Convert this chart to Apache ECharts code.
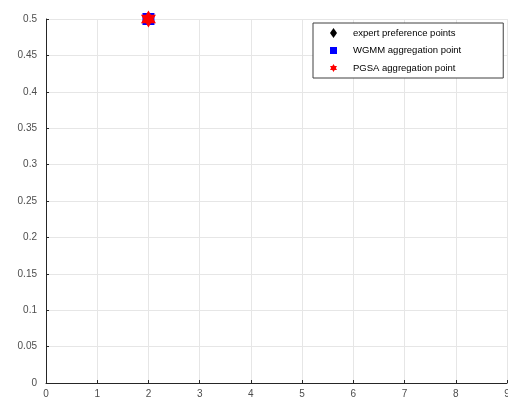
<!DOCTYPE html>
<html>
<head>
<meta charset="utf-8">
<script src="https://cdn.jsdelivr.net/npm/echarts@6/dist/echarts.min.js"></script>
<style>
html,body{margin:0;padding:0;background:#fff;}
#chart{width:508px;height:399px;}
</style>
</head>
<body>
<div id="chart"></div>
<script>
// Aggregation results in the (x, y) plane
const expertPoints = [[2, 0.5]];
const wgmmPoint = [[2, 0.5]];
const pgsaPoint = [[2, 0.5]];

const seriesNames = ['expert preference points', 'WGMM aggregation point', 'PGSA aggregation point'];
const xTicks = [0, 1, 2, 3, 4, 5, 6, 7, 8, 9];
const yTicks = [0, 0.05, 0.1, 0.15, 0.2, 0.25, 0.3, 0.35, 0.4, 0.45, 0.5];

// six-pointed star marker
const hexagram = 'path://M0,-10L2.887,-5L8.660,-5L5.774,0L8.660,5L2.887,5L0,10L-2.887,5L-8.660,5L-5.774,0L-8.660,-5L-2.887,-5Z';

const font = '"Liberation Sans", Arial, Helvetica, sans-serif';
const chart = echarts.init(document.getElementById('chart'), null, {renderer: 'canvas'});

chart.setOption({
  animation: false,
  backgroundColor: '#fff',
  grid: {left: 46, right: 1, top: 19, bottom: 16, containLabel: false, outerBoundsMode: 'none'},
  xAxis: {
    type: 'value',
    min: xTicks[0], max: xTicks[xTicks.length - 1], interval: 1,
    axisLine: {onZero: false, lineStyle: {color: '#262626', width: 1}},
    axisTick: {inside: true, length: 3, lineStyle: {color: '#262626'}},
    axisLabel: {color: '#4d4d4d', fontSize: 10, fontFamily: font, margin: 6},
    splitLine: {show: true, lineStyle: {color: '#e6e6e6', width: 1}}
  },
  yAxis: {
    type: 'value',
    min: yTicks[0], max: yTicks[yTicks.length - 1], interval: 0.05,
    axisLine: {show: true, onZero: false, lineStyle: {color: '#262626', width: 1}},
    axisTick: {show: true, inside: true, length: 3, lineStyle: {color: '#262626'}},
    axisLabel: {color: '#4d4d4d', fontSize: 10, fontFamily: font, margin: 9,
      formatter: v => String(+v.toFixed(2))},
    splitLine: {show: true, lineStyle: {color: '#e6e6e6', width: 1}}
  },
  legend: {
    orient: 'vertical',
    left: 313, top: 23,
    padding: [5, 42, 5, 17],
    itemGap: 7.5,
    itemWidth: 7, itemHeight: 10,
    symbolKeepAspect: true,
    backgroundColor: '#fff',
    borderColor: '#404040', borderWidth: 1,
    textStyle: {color: '#000', fontSize: 9.5, fontFamily: font, padding: [0, 0, 0, 11]},
    data: [
      {name: seriesNames[0], icon: 'path://M0,-5L3.5,0L0,5L-3.5,0Z', itemStyle: {color: '#000'}},
      {name: seriesNames[1], icon: 'path://M-3,-3L3,-3L3,3L-3,3Z'},
      {name: seriesNames[2], icon: hexagram}
    ]
  },
  series: [
    {
      name: seriesNames[0], type: 'scatter', clip: false,
      symbol: 'diamond', symbolSize: [10, 14],
      itemStyle: {color: '#000', opacity: 1},
      data: expertPoints, z: 2
    },
    {
      name: seriesNames[1], type: 'scatter', clip: false,
      symbol: 'rect', symbolSize: 12,
      itemStyle: {color: '#0000ff', opacity: 1},
      data: wgmmPoint, z: 3
    },
    {
      name: seriesNames[2], type: 'scatter', clip: false,
      symbol: hexagram, symbolSize: [15, 17],
      itemStyle: {color: '#ff0000', opacity: 1},
      data: pgsaPoint, z: 4
    }
  ]
});
</script>
</body>
</html>
